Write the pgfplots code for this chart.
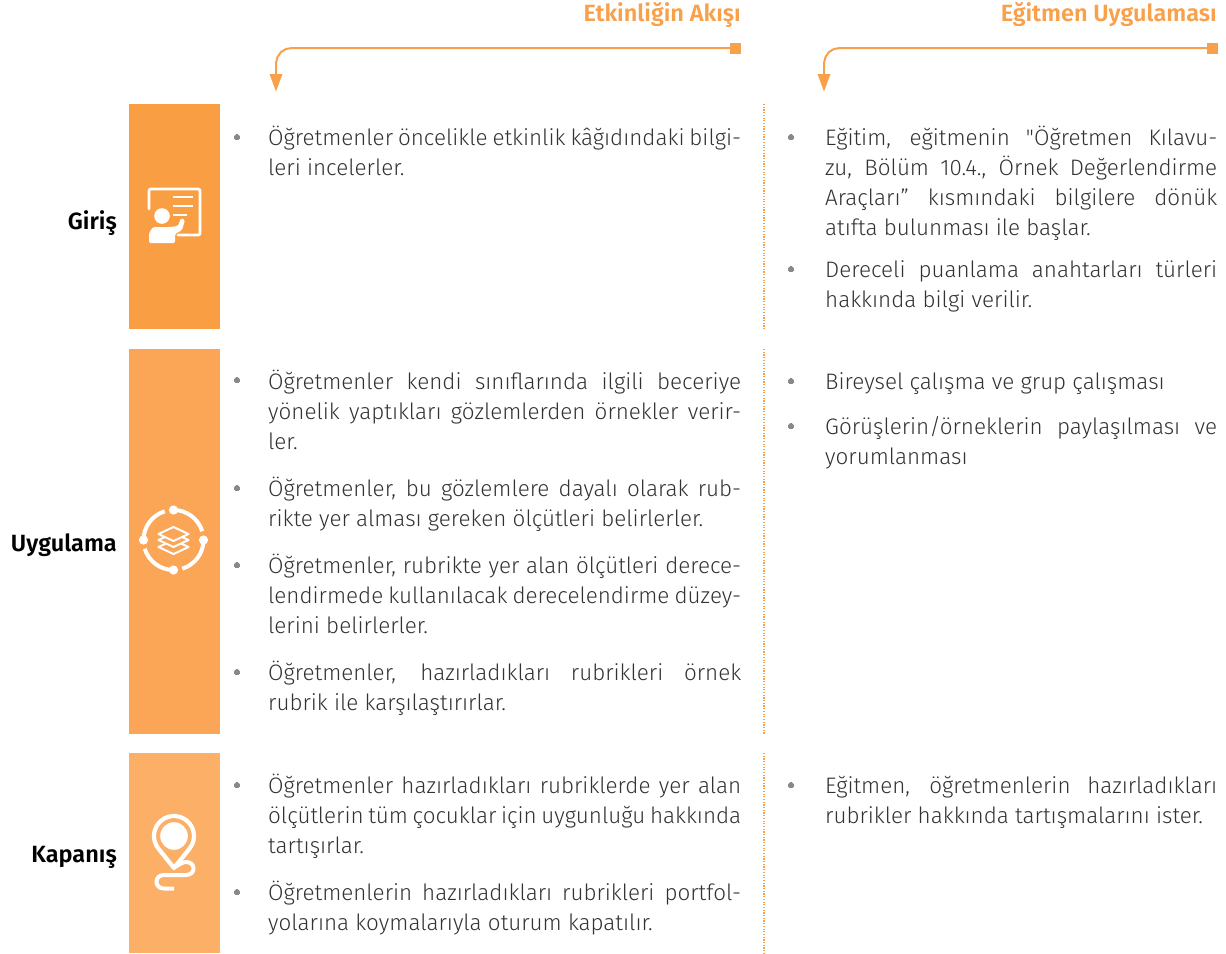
\documentclass[border=0pt]{standalone}
\usepackage{fontspec}
\setmainfont{Fira Sans}[UprightFont=* Light,BoldFont=* SemiBold]
\newfontfamily\rawq{Fira Sans}[UprightFont=* Light]
\usepackage{pgfplots}
\pgfplotsset{compat=1.18}
\definecolor{oa}{RGB}{250,158,68}
\definecolor{ob}{RGB}{251,165,87}
\definecolor{oc}{RGB}{252,176,103}
\definecolor{head}{RGB}{249,160,74}
\definecolor{txt}{RGB}{50,50,50}
\definecolor{bul}{RGB}{137,137,137}
\newdimen\WW
\def\JJ#1{\hbox to \WW{#1}}
\def\LL#1{\hbox{#1}}
\newcommand\colA[2]{\node[anchor=base west,inner sep=0pt,text=txt,font=\fontsize{22.4}{29}\selectfont] at (axis cs:268,#1) {\WW=473pt\vtop{\baselineskip=30pt #2}};}
\newcommand\colB[2]{\node[anchor=base west,inner sep=0pt,text=txt,font=\fontsize{22.4}{29}\selectfont] at (axis cs:825,#1) {\WW=392pt\vtop{\baselineskip=30pt #2}};}
\newcommand\lab[2]{\node[anchor=base east,inner sep=0pt,font=\fontsize{23.5}{29}\selectfont\bfseries,text=black] at (axis cs:117,#1) {#2};}
\begin{document}
\begin{tikzpicture}
\begin{axis}[
  scale only axis,width=1226pt,height=953pt,
  xmin=0,xmax=1226,ymin=0,ymax=953,y dir=reverse,
  hide axis,clip=false,
]
\path (axis cs:0,0) (axis cs:1226,953);
% coloured blocks
\addplot[fill=oa,draw=none] coordinates {(129,104)(220,104)(220,329)(129,329)} --cycle;
\addplot[fill=ob,draw=none] coordinates {(129,349)(220,349)(220,734)(129,734)} --cycle;
\addplot[fill=oc,draw=none] coordinates {(129,753)(220,753)(220,953)(129,953)} --cycle;
% dotted separators
\addplot[head,line width=1.2pt,dash pattern=on 1.2pt off 1.5pt] coordinates {(764,104)(764,329)};
\addplot[head,line width=1.2pt,dash pattern=on 1.2pt off 1.5pt] coordinates {(764,349)(764,734)};
\addplot[head,line width=1.2pt,dash pattern=on 1.2pt off 1.5pt] coordinates {(764,753)(764,953)};
% header arrows
\addplot[head,line width=2pt] coordinates {(735,48)(292,48)(286,49)(281,52)(277.5,57)(276,63)(276,76)};
\addplot[fill=head,draw=none] coordinates {(269.5,74)(282.5,74)(276,91.5)} --cycle;
\addplot[fill=head,draw=none] coordinates {(730,43)(741,43)(741,54)(730,54)} --cycle;
\addplot[head,line width=2pt] coordinates {(1212,48)(840,48)(834,49)(829,52)(825.5,57)(824,63)(824,76)};
\addplot[fill=head,draw=none] coordinates {(817.5,74)(830.5,74)(824,91.5)} --cycle;
\addplot[fill=head,draw=none] coordinates {(1207,43)(1218,43)(1218,54)(1207,54)} --cycle;
% bullets
\addplot[only marks,mark=*,mark size=2.8pt,mark options={fill=bul,draw=bul,line width=0pt}] coordinates {
 (237,137)(237,380)(237,488)(237,565)(237,672)(237,785)(237,892)
 (791,137)(791,269)(791,381)(791,426)(791,785)};
% headers
\node[anchor=base east,inner sep=0pt,text=head,font=\fontsize{23.5}{29}\selectfont\bfseries] at (axis cs:741,21) {Etkinliğin Akışı};
\node[anchor=base east,inner sep=0pt,text=head,font=\fontsize{23.5}{29}\selectfont\bfseries] at (axis cs:1217,21) {Eğitmen Uygulaması};
% row labels
\lab{229}{Giriş}
\lab{551}{Uygulama}
\lab{862}{Kapanış}
% column 1
\colA{145.5}{\JJ{Öğretmenler öncelikle etkinlik kâğıdındaki bilgi-}\LL{leri incelerler.}}
\colA{389}{\JJ{Öğretmenler kendi sınıflarında ilgili beceriye}\JJ{yönelik yaptıkları gözlemlerden örnekler verir-}\LL{ler.}}
\colA{496.5}{\JJ{Öğretmenler, bu gözlemlere dayalı olarak rub-}\LL{rikte yer alması gereken ölçütleri belirlerler.}}
\colA{573.5}{\JJ{Öğretmenler, rubrikte yer alan ölçütleri derece-}\JJ{lendirmede kullanılacak derecelendirme düzey-}\LL{lerini belirlerler.}}
\colA{680.5}{\JJ{Öğretmenler, hazırladıkları rubrikleri örnek}\LL{rubrik ile karşılaştırırlar.}}
\colA{793.5}{\JJ{Öğretmenler hazırladıkları rubriklerde yer alan}\JJ{ölçütlerin tüm çocuklar için uygunluğu hakkında}\LL{tartışırlar.}}
\colA{900.5}{\JJ{Öğretmenlerin hazırladıkları rubrikleri portfol-}\LL{yolarına koymalarıyla oturum kapatılır.}}
% column 2
\colB{145}{\JJ{Eğitim, eğitmenin {\rawq "}Öğretmen Kılavu-}\JJ{zu, Bölüm 10.4., Örnek Değerlendirme}\JJ{Araçları” kısmındaki bilgilere dönük}\LL{atıfta bulunması ile başlar.}}
\colB{277.5}{\JJ{Dereceli puanlama anahtarları türleri}\LL{hakkında bilgi verilir.}}
\colB{389.5}{\LL{Bireysel çalışma ve grup çalışması}}
\colB{434.5}{\JJ{Görüşlerin/örneklerin paylaşılması ve}\LL{yorumlanması}}
\colB{793.5}{\JJ{Eğitmen, öğretmenlerin hazırladıkları}\LL{rubrikler hakkında tartışmalarını ister.}}
% icon 1
\draw[white,line width=2.8pt,line cap=round,rounded corners=2pt] (axis cs:149,209)--(axis cs:149,189)--(axis cs:200,189)--(axis cs:200,235)--(axis cs:178,235);
\draw[white,line width=2.8pt] (axis cs:173,197)--(axis cs:193,197) (axis cs:173,206)--(axis cs:193,206) (axis cs:173,215)--(axis cs:187,215);
\fill[white] (axis cs:162,216) circle[radius=7.8pt];
\fill[white,rounded corners=1.5pt] (axis cs:149,243)--(axis cs:149,233)--(axis cs:153,227)--(axis cs:170,227)--(axis cs:178,226)--(axis cs:181,218)--(axis cs:185,220)--(axis cs:182,230)--(axis cs:175,234)--(axis cs:175,243)--cycle;
% icon 2
\fill[white] (axis cs:173.5,510) circle[radius=4.6pt] (axis cs:203.5,540) circle[radius=4.6pt] (axis cs:173.5,570) circle[radius=4.6pt] (axis cs:143.5,540) circle[radius=4.6pt];
\draw[white,line width=4pt] (axis cs:173.5,510) arc[start angle=90,delta angle=-73,radius=30pt];
\draw[white,line width=4pt] (axis cs:203.5,540) arc[start angle=0,delta angle=-73,radius=30pt];
\draw[white,line width=4pt] (axis cs:173.5,570) arc[start angle=-90,delta angle=-73,radius=30pt];
\draw[white,line width=4pt] (axis cs:143.5,540) arc[start angle=180,delta angle=-73,radius=30pt];
\draw[white,line width=2pt,fill=ob,line join=round] (axis cs:158.5,547)--(axis cs:173.5,540)--(axis cs:188.5,547)--(axis cs:173.5,554)--cycle;
\draw[white,line width=2pt,fill=ob,line join=round] (axis cs:158.5,540)--(axis cs:173.5,533)--(axis cs:188.5,540)--(axis cs:173.5,547)--cycle;
\draw[white,line width=2pt,fill=ob,line join=round] (axis cs:158.5,534)--(axis cs:173.5,527)--(axis cs:188.5,534)--(axis cs:173.5,541)--cycle;
% icon 3
\draw[white,line width=4.2pt,line join=round] (axis cs:174,868)--(axis cs:189.6,848.5) arc[start angle=-38.7,end angle=218.7,radius=20pt]--cycle;
\fill[white] (axis cs:174,836) circle[radius=13.8pt];
\draw[white,line width=4pt,line cap=butt] (axis cs:175,867) .. controls (axis cs:180,864) and (axis cs:183,862) .. (axis cs:186,862) .. controls (axis cs:196,862) and (axis cs:196,875) .. (axis cs:186,875) -- (axis cs:164,875) .. controls (axis cs:154,875) and (axis cs:154,888.5) .. (axis cs:164,888.5) -- (axis cs:174,888.5);
\end{axis}
\end{tikzpicture}
\end{document}
